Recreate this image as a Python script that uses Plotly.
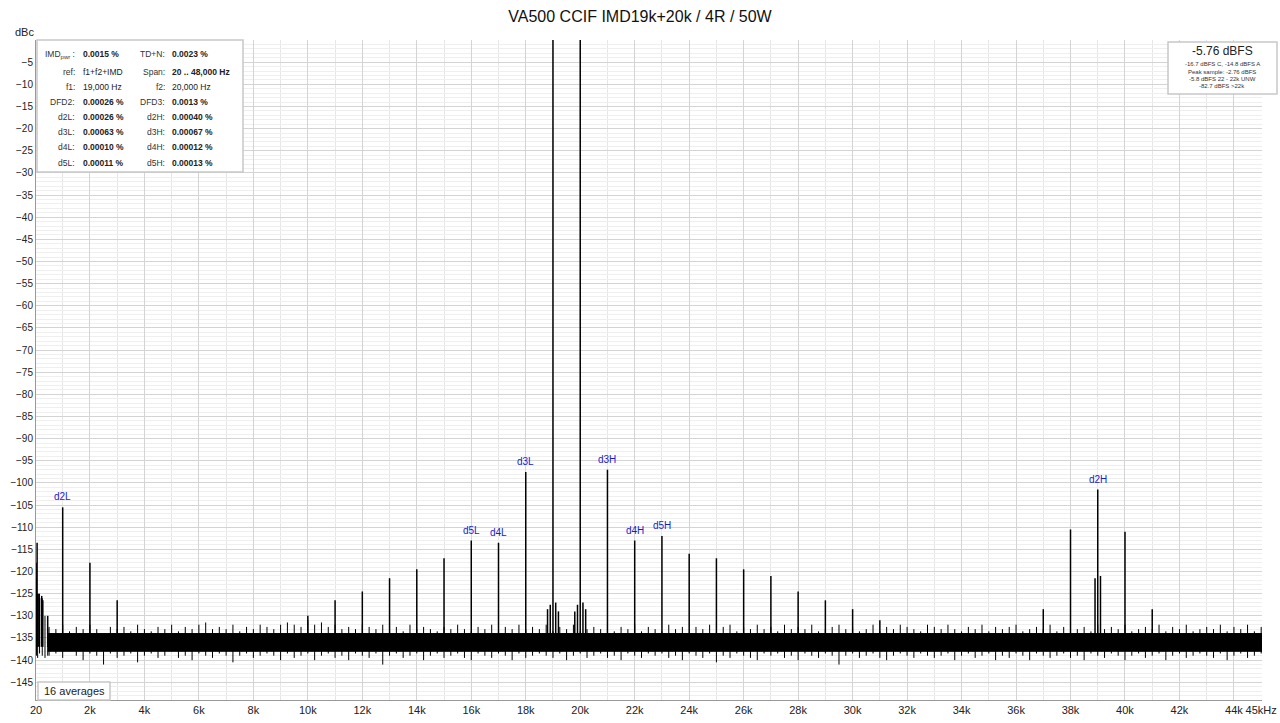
import plotly.graph_objects as go

# spikes: frequency (Hz) and level (dBc)
spike_freq = [20, 30, 60, 100, 150, 230, 270, 450, 1000, 2000, 3000,
              10000, 11000, 12000, 13000, 14000, 15000, 16000, 17000, 18000,
              18800, 18900, 19000, 19100, 19200, 19800, 19900, 20000, 20100, 20200,
              21000, 22000, 23000, 24000, 25000, 26000, 27000, 28000, 29000, 30000, 31000,
              37000, 38000, 38900, 39000, 39100, 40000, 41000]
spike_level = [-118, -121.5, -113.5, -125, -126, -125.5, -126.5, -130, -105.5, -118, -126.5,
               -130, -126.5, -124.5, -121.5, -119.5, -117, -113, -113.5, -97.5,
               -128.5, -127.5, 0, -127, -129, -129, -127.5, 0, -127, -128.5,
               -97, -113, -112, -116, -117, -119.5, -121, -124.5, -126.5, -128.5, -131,
               -128.5, -110.5, -121.5, -101.5, -121, -111, -128.5]

# noise floor: fringe peaks (upper) and dips (lower), read roughly every 250 Hz
noise_freq = [20, 40, 80, 150, 250, 350, 450] + [250 * i for i in range(2, 182)]
noise_upper = [-118, -122, -125, -125, -126, -130, -133] + [
    -132.5, -133, -132, -133.5, -132.5, -133, -132, -133, -134, -132.5,
    -133, -132.5, -133.5, -132, -133, -133.5, -132.5, -133, -132, -133.5,
    -132.5, -133, -132, -131.5, -133, -132.5, -133, -132, -133.5, -132.5,
    -133, -132, -132.5, -133, -132, -131.5, -132, -132.5, -131, -132,
    -131.5, -132.5, -132, -133, -132.5, -133, -132, -132.5, -133, -132,
    -133, -132.5, -133.5, -132, -133, -132.5, -133, -133.5, -132.5, -133,
    -132, -133, -133.5, -132.5, -133, -132, -133.5, -132.5, -133, -132,
    -133, -132.5, -133, -132, -133.5, -132.5, -133, -132, -133.5, -133,
    -132.5, -133, -132, -133.5, -132.5, -133, -132, -133.5, -132.5, -133,
    -133.5, -132, -133, -132.5, -134, -132.5, -133, -132, -133.5, -132.5,
    -132, -133.5, -132.5, -133, -132, -133, -132.5, -133.5, -132, -133,
    -132.5, -133, -132, -133.5, -133, -132.5, -132, -133, -132.5, -133.5,
    -133, -132, -133.5, -132.5, -133, -132, -132.5, -133, -133.5, -132,
    -132.5, -133, -132, -133, -133.5, -132.5, -133, -132, -133.5, -132.5,
    -133, -132.5, -132, -133.5, -133, -132.5, -133, -132, -133.5, -132.5,
    -132, -133, -132.5, -133.5, -132, -133, -132.5, -133, -132, -133.5,
    -133, -132.5, -133, -132, -133.5, -132.5, -133, -132, -133.5, -133,
    -132.5, -133, -132, -133.5, -132.5, -133, -132, -133.5, -132.5, -133]
noise_lower = [-138, -139, -139.5, -138.5, -139, -139.5, -139] + [
    -139, -138.5, -139.5, -138, -139, -140, -138.5, -139, -141, -138.5,
    -139.5, -139, -138.5, -140.5, -139, -138.5, -139.5, -139, -138, -139.5,
    -139, -140, -138.5, -139, -139.5, -138.5, -139, -140.5, -139, -138.5,
    -139.5, -139, -138.5, -139, -140, -138.5, -139.5, -139, -138.5, -140,
    -139, -138.5, -139.5, -139, -140, -138.5, -139, -139.5, -138.5, -141,
    -139, -138.5, -139.5, -139, -138.5, -140, -139, -138.5, -139.5, -139,
    -138.5, -139.5, -140, -138.5, -139, -139.5, -138.5, -139, -140, -138.5,
    -139.5, -139, -138.5, -139, -139.5, -138.5, -140, -139, -138.5, -139.5,
    -139, -138.5, -139.5, -139, -140, -138.5, -139, -139.5, -138.5, -139,
    -138.5, -139.5, -139, -140, -138.5, -139, -139.5, -138.5, -140.5, -139,
    -139.5, -138.5, -139, -139.5, -140, -138.5, -139, -138.5, -139.5, -139,
    -140, -138.5, -139, -139.5, -138.5, -139, -141, -139, -138.5, -139.5,
    -139, -138.5, -139.5, -140, -139, -138.5, -139, -139.5, -138.5, -139,
    -139.5, -139, -138.5, -140, -139, -138.5, -139.5, -139, -138.5, -140,
    -139, -139.5, -138.5, -139, -140, -138.5, -139, -139.5, -139, -138.5,
    -139.5, -139, -140, -138.5, -139, -139.5, -138.5, -139, -140, -139,
    -138.5, -139.5, -139, -138.5, -140, -139, -138.5, -139.5, -139, -138.5,
    -139, -139.5, -138.5, -140, -139, -138.5, -139.5, -139, -138.5, -139]
noise_core_top = -134
noise_core_bottom = -138

# peak labels
label_text = ["d2L", "d5L", "d4L", "d3L", "d3H", "d4H", "d5H", "d2H"]
label_freq = [1000, 16000, 17000, 18000, 21000, 22000, 23000, 39000]
label_level = [-105.5, -113, -113.5, -97.5, -97, -113, -112, -101.5]

x_tick_vals = [20] + [2000 * i for i in range(1, 23)] + [45000]
x_tick_text = ["20"] + [f"{2 * i}k" for i in range(1, 23)] + ["45kHz"]
y_tick_vals = list(range(-5, -150, -5))

info_rows = [
    ("IMD<sub>pwr</sub> :", "0.0015 %", "TD+N:", "0.0023 %"),
    ("ref:", "f1+f2+IMD", "Span:", "20 .. 48,000 Hz"),
    ("f1:", "19,000 Hz", "f2:", "20,000 Hz"),
    ("DFD2:", "0.00026 %", "DFD3:", "0.0013 %"),
    ("d2L:", "0.00026 %", "d2H:", "0.00040 %"),
    ("d3L:", "0.00063 %", "d3H:", "0.00067 %"),
    ("d4L:", "0.00010 %", "d4H:", "0.00012 %"),
    ("d5L:", "0.00011 %", "d5H:", "0.00013 %"),
]
plain_values = {"f1+f2+IMD", "19,000 Hz", "20,000 Hz"}

fig = go.Figure()

# dense core of the noise floor
core_f = noise_freq[6:]
fig.add_trace(go.Scatter(x=core_f + core_f[::-1],
                         y=[noise_core_top] * len(core_f) + [noise_core_bottom] * len(core_f),
                         fill="toself", fillcolor="black", mode="lines",
                         line=dict(color="black", width=1), hoverinfo="skip"))

# spiky fringe: short vertical strokes from dip to peak
zx, zy = [], []
for f, hi, lo in zip(noise_freq, noise_upper, noise_lower):
    zx += [f, f, None]
    zy += [lo, hi, None]
fig.add_trace(go.Scatter(x=zx, y=zy, mode="lines", line=dict(color="black", width=1),
                         hoverinfo="skip"))

sx, sy = [], []
for f, lv in zip(spike_freq, spike_level):
    sx += [f, f, None]
    sy += [-137, lv, None]
fig.add_trace(go.Scatter(x=sx, y=sy, mode="lines", line=dict(color="black", width=1.5)))

for t, f, lv in zip(label_text, label_freq, label_level):
    fig.add_annotation(x=f, y=lv, text=t, showarrow=False, yanchor="bottom", yshift=3,
                       font=dict(color="#1a1acc", size=10))

# paper-coordinate helpers (plot area: x 36..1262, y 40..700)
def px(x):
    return (x - 36) / 1226

def py(y):
    return (700 - y) / 660

def text_at(x, y, t, size, anchor="center", color="#222"):
    fig.add_annotation(xref="paper", yref="paper", x=px(x), y=py(y), text=t,
                       xanchor=anchor, yanchor="middle", showarrow=False,
                       font=dict(size=size, color=color))

def box(x0, x1, y0, y1):
    fig.add_shape(type="rect", xref="paper", yref="paper", x0=px(x0), x1=px(x1), y0=py(y1), y1=py(y0),
                  line=dict(color="#c8c8c8", width=1.5), fillcolor="white", layer="above")

box(37, 243, 40, 172)
row_y = [54, 72, 87, 102, 117, 132, 147, 163]
for (l1, v1, l2, v2), yy in zip(info_rows, row_y):
    for lab, val, lx, vx in [(l1, v1, 77, 81), (l2, v2, 167, 170)]:
        text_at(lx, yy, lab, 8.5, "right", "#333")
        text_at(vx, yy, val if val in plain_values else f"<b>{val}</b>", 8.5, "left")

box(1168, 1277, 42, 94)
text_at(1222, 51, "-5.76 dBFS", 12)
rbox_lines = ["-16.7 dBFS C, -14.8 dBFS A", "Peak sample: -2.76 dBFS",
              "-5.8 dBFS 22 - 22k UNW", "-82.7 dBFS >22k"]
for i, t in enumerate(rbox_lines):
    text_at(1222, 64 + 7.5 * i, t, 6, color="#333")

box(38, 110, 682, 700)
text_at(74, 691, "16 averages", 11)
text_at(24, 32, "dBc", 11)

fig.update_layout(
    width=1280, height=723, showlegend=False,
    margin=dict(l=36, r=18, t=40, b=23),
    plot_bgcolor="white", paper_bgcolor="white",
    font=dict(family="Liberation Sans, Arial", size=11, color="#222"),
    title=dict(text="VA500 CCIF IMD19k+20k / 4R / 50W", x=0.5, y=0.985, yanchor="top",
               font=dict(size=16, color="#111")),
    xaxis=dict(range=[20, 45030], tickvals=x_tick_vals, ticktext=x_tick_text, automargin=False,
               showgrid=True, gridcolor="#d4d4d4", zeroline=False, ticks="",
               minor=dict(tickvals=[1000 * i for i in range(1, 46, 2)], showgrid=True, gridcolor="#e6e6e6"),
               showline=True, linecolor="#999", tickfont=dict(size=11)),
    yaxis=dict(range=[-149, 0], tickvals=y_tick_vals, showgrid=True, gridcolor="#d4d4d4",
               zeroline=False, ticks="", automargin=False,
               minor=dict(dtick=1, showgrid=True, gridcolor="#efefef"),
               showline=True, linecolor="#999", tickfont=dict(size=10)),
)

fig.write_html("out.html", config={"displayModeBar": False},
               post_script="document.body.style.margin='0';")
